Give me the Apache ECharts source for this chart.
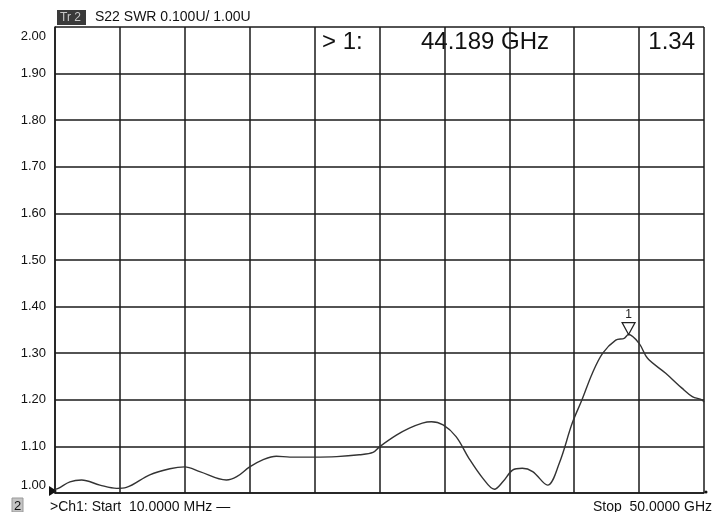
<!DOCTYPE html>
<html>
<head>
<meta charset="utf-8">
<script src="https://cdn.jsdelivr.net/npm/echarts@6/dist/echarts.min.js"></script>
<style>
  html, body { margin: 0; padding: 0; background: #fff; }
  #main { width: 715px; height: 512px; }
</style>
</head>
<body>
<div id="main"></div>
<script>
// S22 SWR trace, frequency in GHz
var freqGHz = [0.01, 0.25, 1.15, 2.05, 3.46, 4.75, 5.5, 7.3, 8.85, 10.0, 11.15, 13.2, 14.0, 15.0, 16.0, 17.05,
  18.1, 19.9, 21.7, 23.45, 24.5, 25.0, 26.3, 27.3, 28.3, 29.0, 29.9, 30.9, 31.9, 32.95, 33.85, 34.5,
  35.25, 36.0, 36.8, 37.95, 38.85, 39.85, 40.6, 41.4, 42.2, 43.2, 43.85, 44.189, 45.0, 45.65, 47.05,
  48.3, 49.1, 49.85, 50.0];
var swr = [1.008, 1.010, 1.024, 1.028, 1.017, 1.010, 1.012, 1.039, 1.052, 1.056, 1.046, 1.028, 1.035, 1.056, 1.071, 1.079,
  1.077, 1.077, 1.078, 1.082, 1.087, 1.099, 1.124, 1.139, 1.150, 1.153, 1.146, 1.121, 1.074, 1.032, 1.008, 1.024,
  1.049, 1.053, 1.046, 1.017, 1.064, 1.150, 1.200, 1.257, 1.300, 1.328, 1.332, 1.34, 1.321, 1.289, 1.257,
  1.225, 1.207, 1.200, 1.195];
var yTicks = ['1.00', '1.10', '1.20', '1.30', '1.40', '1.50', '1.60', '1.70', '1.80', '1.90', '2.00'];
var markerFreq = 44.189;
var markerValue = 1.34;

var pts = [];
for (var i = 0; i < freqGHz.length; i++) {
  pts.push([freqGHz[i], swr[i]]);
}

var myChart = echarts.init(document.getElementById('main'));
var font = 'Liberation Sans, Arial, sans-serif';

var option = {
  backgroundColor: '#ffffff',
  animation: false,
  grid: { left: 55, top: 27, right: 11, bottom: 19, show: false },
  xAxis: {
    type: 'value', min: 0, max: 50, interval: 5,
    axisLine: { show: true, lineStyle: { color: '#1a1a1a', width: 1.5 } },
    axisTick: { show: false },
    axisLabel: { show: false },
    splitLine: { show: true, lineStyle: { color: '#1a1a1a', width: 1.5 } }
  },
  yAxis: {
    type: 'value', min: 1, max: 2, interval: 0.1,
    axisLine: { show: true, lineStyle: { color: '#1a1a1a', width: 1.5 } },
    axisTick: { show: false },
    axisLabel: {
      margin: 9,
      color: '#111',
      fontFamily: font,
      fontSize: 13,
      formatter: function (v) {
        var idx = Math.round((v - 1) * 10);
        var s = yTicks[idx];
        if (idx == 10) return '{top|' + s + '}';
        if (idx == 0) return '{bot|' + s + '}';
        return s;
      },
      rich: {
        top: { fontFamily: font, fontSize: 13, color: '#111', padding: [18, 0, 0, 0] },
        bot: { fontFamily: font, fontSize: 13, color: '#111', padding: [0, 0, 15, 0] }
      }
    },
    splitLine: { show: true, lineStyle: { color: '#1a1a1a', width: 1.5 } }
  },
  series: [{
    type: 'line',
    data: pts,
    smooth: 0.35,
    showSymbol: false,
    lineStyle: { color: '#333', width: 1.4 },
    markPoint: {
      symbol: 'triangle',
      symbolSize: [13, 12],
      symbolRotate: 180,
      symbolOffset: [0, -6],
      itemStyle: { color: '#ffffff', borderColor: '#222', borderWidth: 1.2 },
      label: { show: true, position: 'top', distance: 1, formatter: '1', color: '#222', fontFamily: font, fontSize: 12 },
      data: [{ coord: [markerFreq, markerValue] }]
    }
  }],
  graphic: [
    { type: 'rect', shape: { x: 57, y: 10, width: 29, height: 15 }, style: { fill: '#3a3a3a' } },
    { type: 'text', x: 60, y: 17.5, style: { text: 'Tr 2', fill: '#c8c8c8', font: '12px ' + font, verticalAlign: 'middle' } },
    { type: 'text', x: 95, y: 17.5, style: { text: 'S22 SWR 0.100U/ 1.00U', fill: '#111', font: '14px ' + font, verticalAlign: 'middle' } },
    { type: 'text', x: 322, y: 42, style: { text: '> 1:', fill: '#111', font: '24px ' + font, verticalAlign: 'middle' } },
    { type: 'text', x: 421, y: 42, style: { text: markerFreq.toFixed(3) + ' GHz', fill: '#111', font: '24px ' + font, verticalAlign: 'middle' } },
    { type: 'text', x: 695, y: 42, style: { text: markerValue.toFixed(2), fill: '#111', font: '24px ' + font, align: 'right', verticalAlign: 'middle' } },
    { type: 'polygon', shape: { points: [[49, 486], [57, 491], [49, 496]] }, style: { fill: '#111' } },
    { type: 'circle', shape: { cx: 706, cy: 492, r: 1.5 }, style: { fill: '#111' } },
    { type: 'rect', shape: { x: 12, y: 498, width: 11, height: 14 }, style: { fill: '#c4c4c4', stroke: '#999' } },
    { type: 'text', x: 14, y: 506, style: { text: '2', fill: '#111', font: '13px ' + font, verticalAlign: 'middle' } },
    { type: 'text', x: 50, y: 507, style: { text: '>Ch1: Start  10.0000 MHz —', fill: '#111', font: '14px ' + font, verticalAlign: 'middle' } },
    { type: 'text', x: 712, y: 507, style: { text: 'Stop  50.0000 GHz', fill: '#111', font: '14px ' + font, align: 'right', verticalAlign: 'middle' } }
  ]
};

myChart.setOption(option);
</script>
</body>
</html>
